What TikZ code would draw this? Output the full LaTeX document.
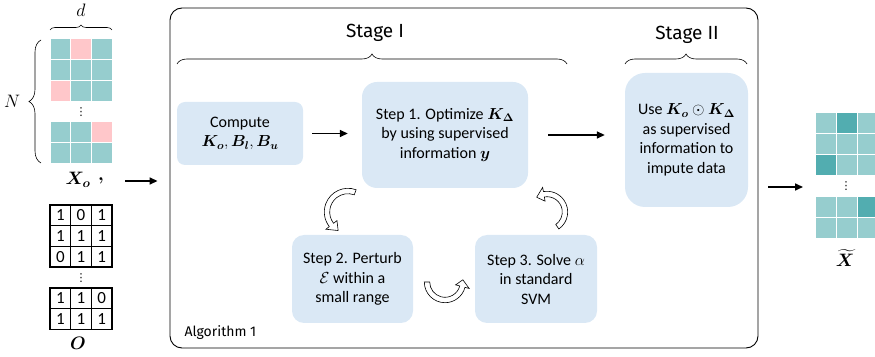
\RequirePackage{fix-cm}
\documentclass[tikz,border=0pt]{standalone}
\usepackage{amsmath,bm}
\usepackage{fontspec}
\setmainfont{Carlito}
\newfontfamily\stagefont{Fira Sans}
\newfontfamily\symfont{DejaVu Sans}
\usetikzlibrary{arrows.meta,decorations.pathreplacing,positioning}

\definecolor{boxblue}{RGB}{218,232,245}
\definecolor{matt}{RGB}{150,205,206}
\definecolor{matp}{RGB}{255,199,202}
\definecolor{matd}{RGB}{82,173,176}

\tikzset{
  stepbox/.style={fill=boxblue, align=center, inner sep=0pt, font=\fontsize{16}{19.5}\selectfont},
  arr/.style={line width=1.6pt, -{Triangle[length=8pt,width=7pt]}},
  stagebrace/.style={decorate, decoration={brace, amplitude=10pt}, line width=0.6pt},
  stagelabel/.style={font=\stagefont\fontsize{19}{22}\selectfont},
  ocell/.style={draw, line width=0.7pt, minimum size=20.67pt, inner sep=0pt, font=\fontsize{17}{17}\selectfont},
  matlabel/.style={font=\fontsize{18}{18}\selectfont},
  dots/.style={inner sep=0pt, font=\symfont\fontsize{11}{11}\selectfont},
}

% hollow curved arrow: center, radius, start angle, end angle, tip angle
\newcommand{\hollowarc}[5]{%
  \draw[line width=0.6pt, fill=white, shift={(#1)}]
    (#3:#2+2.7) arc[start angle=#3, end angle=#4, radius=#2+2.7]
    -- (#4:#2+7) -- (#4+#5:#2) -- (#4:#2-7) -- (#4:#2-2.7)
    arc[start angle=#4, end angle=#3, radius=#2-2.7] -- cycle;}

\begin{document}
\begin{tikzpicture}[x=1pt, y=1pt, font=\fontsize{15}{18}\selectfont]
\useasboundingbox (0,0) rectangle (875,356);

% input matrix X_o
\foreach \row [count=\i] in {{t,p,t},{t,t,t},{p,t,t}}
  \foreach \c [count=\j] in \row
    \draw[white, line width=1pt, fill=mat\c] ({50+20.67*(\j-1)},{317-20.67*(\i-1)}) rectangle ++(20.67,-20.67);
\foreach \row [count=\i] in {{t,t,p},{t,t,t}}
  \foreach \c [count=\j] in \row
    \draw[white, line width=1pt, fill=mat\c] ({50+20.67*(\j-1)},{234-20.67*(\i-1)}) rectangle ++(20.67,-20.67);
\node[dots] (xodots) at (81,244) {⋮};
\node[matlabel] (dlabel) at (81,346) {$d$};
\node[matlabel] (nlabel) at (12,255) {$N$};
\draw[decorate, decoration={brace, amplitude=5pt}, line width=0.6pt] (50,326) -- (112,326);
\draw[decorate, decoration={brace, amplitude=12pt}, line width=0.6pt] (41,193) -- (41,316);
\node[matlabel] (xo) at (78,176) {$\bm{X_o}$};
\node[matlabel] (comma) at (101,175) {$\bm{,}$};

% mask matrix O
\foreach \row [count=\i] in {{1,0,1},{1,1,1},{0,1,1}}
  \foreach \v [count=\j] in \row
    \node[ocell] (o\i\j) at ({60.33+20.67*(\j-1)},{140.67-20.67*(\i-1)}) {\v};
\foreach \row [count=\i] in {{1,1,0},{1,1,1}}
  \foreach \v [count=\j] in \row
    \node[ocell] (ob\i\j) at ({60.33+20.67*(\j-1)},{57.67-20.67*(\i-1)}) {\v};
\draw[line width=1.2pt] (50,151) rectangle (112,89);
\draw[line width=1.2pt] (50,68) rectangle (112,26.67);
\node[dots] (odots) at (81,78) {⋮};
\node[matlabel] (olabel) at (78,13) {$\bm{O}$};

% algorithm frame
\node[draw, rounded corners=12pt, line width=0.9pt, minimum width=588pt, minimum height=340pt] (frame) at (464,178) {};
\node[font=\stagefont\fontsize{14}{16}\selectfont, anchor=west] (algo) at (181,23) {Algorithm 1};

% stages
\node[stagelabel] (stage1) at (375,323) {Stage I};
\node[stagelabel] (stage2) at (687,321) {Stage II};
\draw[stagebrace] (177,292) -- (567,292);
\draw[stagebrace] (625,292) -- (747,292);

% boxes
\node[stepbox, rounded corners=8pt, minimum width=126pt, minimum height=63pt] (compute) at (240,222.5) {Compute\\$\bm{K_o}, \bm{B_l}, \bm{B_u}$};
\node[stepbox, rounded corners=15pt, minimum width=166pt, minimum height=106pt] (step1) at (445,221) {Step 1. Optimize $\bm{K_\Delta}$\\by using supervised\\information $\bm{y}$};
\node[stepbox, rounded corners=20pt, minimum width=123pt, minimum height=134pt] (use) at (686.5,216) {Use $\bm{K_o}\odot\bm{K_\Delta}$\\as supervised\\information to\\impute data};
\node[stepbox, rounded corners=12pt, minimum width=121pt, minimum height=88pt] (step2) at (352.5,77) {Step 2. Perturb\\$\mathcal{E}$ within a\\small range};
\node[stepbox, rounded corners=12pt, minimum width=122pt, minimum height=88pt] (step3) at (536,77) {Step 3. Solve $\alpha$\\in standard\\SVM};

% arrows
\draw[arr, shorten <=9pt, shorten >=14pt] (compute.east) -- (compute.east -| step1.west);
\draw[arr, shorten <=20pt, shorten >=20pt] (step1.east) -- (step1.east -| use.west);
\draw[arr, shorten <=18pt, shorten >=12pt] (comma.east) -- (comma.east -| frame.west);

% iteration loop
\coordinate (loopA) at (348,144);
\coordinate (loopB) at (445,74);
\coordinate (loopC) at (547,144);
\hollowarc{loopA}{21}{70}{218}{24}
\hollowarc{loopB}{18}{180}{345}{22}
\hollowarc{loopC}{18}{-55}{100}{25}

% output matrix
\foreach \row [count=\i] in {{t,d,t},{t,t,t},{d,t,t}}
  \foreach \c [count=\j] in \row
    \draw[white, line width=1pt, fill=mat\c] ({815+21*(\j-1)},{243-20.67*(\i-1)}) rectangle ++(21,-20.67);
\foreach \row [count=\i] in {{t,t,d},{t,t,t}}
  \foreach \c [count=\j] in \row
    \draw[white, line width=1pt, fill=mat\c] ({815+21*(\j-1)},{159-20.67*(\i-1)}) rectangle ++(21,-20.67);
\node[dots] (xtdots) at (846,170) {⋮};
\node[matlabel] (xtilde) at (845,98) {$\widetilde{\bm{X}}$};
\coordinate (xtin) at (815,169);
\draw[arr, shorten <=10pt, shorten >=12pt] (frame.east |- xtin) -- (xtin);
\end{tikzpicture}
\end{document}
